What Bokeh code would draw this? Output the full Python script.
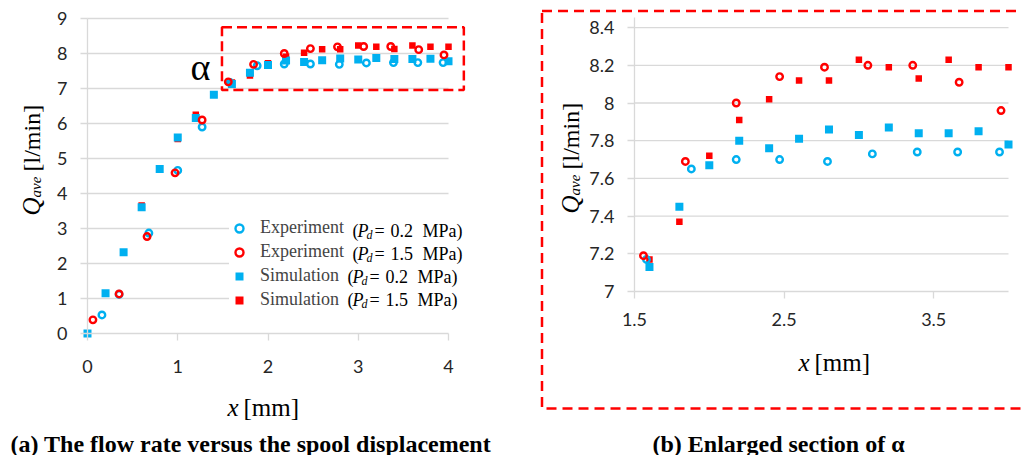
import math
from bokeh.plotting import figure
from bokeh.models import (Range1d, Label, BoxAnnotation, Legend, LegendItem, FixedTicker,
                          LinearAxis, ColumnDataSource, CDSView, BooleanFilter)
from bokeh.layouts import row
from bokeh.embed import file_html
from bokeh.resources import INLINE

# ---------------- data ----------------
sim_x = [0.0, 0.2, 0.4, 0.6, 0.8, 1.0, 1.2, 1.4, 1.6, 1.8, 2.0, 2.2, 2.4, 2.6, 2.8, 3.0, 3.2, 3.4, 3.6, 3.8, 4.0]
sim_q_02 = [0.00, 1.15, 2.32, 3.61, 4.70, 5.60, 6.16, 6.82, 7.13, 7.45, 7.67, 7.80, 7.76, 7.81, 7.86, 7.83, 7.87, 7.84, 7.84, 7.85, 7.78]
sim_q_15 = [0.00, 1.15, 2.32, 3.66, 4.70, 5.56, 6.25, 6.82, 7.17, 7.37, 7.72, 7.91, 8.02, 8.12, 8.12, 8.23, 8.19, 8.13, 8.23, 8.19, 8.19]

exp_x_02 = [0.16, 0.35, 0.68, 1.00, 1.27, 1.58, 1.88, 2.18, 2.47, 2.79, 3.09, 3.39, 3.66, 3.94]
exp_q_02 = [0.53, 1.12, 2.87, 4.66, 5.90, 7.17, 7.65, 7.70, 7.70, 7.69, 7.73, 7.74, 7.74, 7.74]
exp_x_15 = [0.06, 0.35, 0.66, 0.97, 1.27, 1.56, 1.84, 2.18, 2.47, 2.77, 3.06, 3.36, 3.67, 3.95]
exp_q_15 = [0.39, 1.13, 2.77, 4.59, 6.10, 7.19, 7.69, 8.00, 8.14, 8.19, 8.20, 8.20, 8.11, 7.96]

a_x_ticks = [0, 1, 2, 3, 4]
a_x_labels = ["0", "1", "2", "3", "4"]
a_y_ticks = [0, 1, 2, 3, 4, 5, 6, 7, 8, 9]
a_y_labels = ["0", "1", "2", "3", "4", "5", "6", "7", "8", "9"]
b_x_ticks = [1.5, 2.5, 3.5]
b_x_labels = ["1.5", "2.5", "3.5"]
b_y_ticks = [7.0, 7.2, 7.4, 7.6, 7.8, 8.0, 8.2, 8.4]
b_y_labels = ["7", "7.2", "7.4", "7.6", "7.8", "8", "8.2", "8.4"]

legend_names = ["Experiment", "Experiment", "Simulation", "Simulation"]
legend_pressures = ["0.2", "1.5", "0.2", "1.5"]
caption_a = "(a) The flow rate versus the spool displacement"
caption_b = "(b) Enlarged section of \u03b1"

BLUE = "#00b0f0"
RED = "#ff0000"
GRID = "#d9d9d9"
SERIF = "Liberation Serif"


# ---------------- helpers ----------------
def make_fig(w, h, fx, fy):
    p = figure(width=w, height=h, x_range=Range1d(fx(0), fx(w)), y_range=Range1d(fy(h), fy(0)),
               output_backend="svg", toolbar_location=None, x_axis_type=None, y_axis_type=None,
               min_border=0, min_border_left=0, min_border_right=0, min_border_top=0,
               min_border_bottom=0)
    p.outline_line_color = None
    p.background_fill_color = "white"
    p.border_fill_color = "white"
    p.grid.visible = False
    return p


def add_axes(p, xticks, xlabels, yticks, ylabels, xb, yb, xstand):
    xa = LinearAxis(fixed_location=yb[0], bounds=xb, ticker=FixedTicker(ticks=xticks),
                    major_label_overrides=dict(zip(xticks, xlabels)))
    ya = LinearAxis(fixed_location=xb[0], bounds=yb, ticker=FixedTicker(ticks=yticks),
                    major_label_overrides=dict(zip(yticks, ylabels)))
    for ax in (xa, ya):
        ax.axis_line_color = GRID
        ax.axis_line_width = 1.3
        ax.major_tick_line_color = GRID
        ax.major_tick_line_width = 1.3
        ax.major_tick_out = 7
        ax.major_tick_in = 0
        ax.minor_tick_line_color = None
        ax.major_label_text_font = "Lato"
        ax.major_label_text_font_size = "18px"
        ax.major_label_text_color = "#262626"
    ya.major_label_standoff = 13
    xa.major_label_standoff = xstand
    p.add_layout(xa, "below")
    p.add_layout(ya, "left")
    # horizontal grid lines, spanning the x axis extent
    gy = [t for t in yticks if t != yb[0]]
    p.segment(x0=[xb[0]] * len(gy), x1=[xb[1]] * len(gy), y0=gy, y1=gy,
              line_color=GRID, line_width=1.3, level="underlay")


def add_series(p, window=None):
    def view(xs, ys):
        if window is None:
            return CDSView()
        x0, x1, y0, y1 = window
        return CDSView(filter=BooleanFilter([x0 <= a <= x1 + 1e-9 and y0 <= b <= y1 for a, b in zip(xs, ys)]))
    s15 = ColumnDataSource(dict(x=sim_x, q=sim_q_15))
    s02 = ColumnDataSource(dict(x=sim_x, q=sim_q_02))
    e02 = ColumnDataSource(dict(x=exp_x_02, q=exp_q_02))
    e15 = ColumnDataSource(dict(x=exp_x_15, q=exp_q_15))
    r_s15 = p.scatter("x", "q", source=s15, view=view(sim_x, sim_q_15), marker="square", size=6.5,
                      fill_color=RED, line_color=None)
    r_s02 = p.scatter("x", "q", source=s02, view=view(sim_x, sim_q_02), marker="square", size=8,
                      fill_color=BLUE, line_color=None)
    r_e02 = p.scatter("x", "q", source=e02, view=view(exp_x_02, exp_q_02), marker="circle", size=6.5,
                      fill_color=None, line_color=BLUE, line_width=2.4)
    r_e15 = p.scatter("x", "q", source=e15, view=view(exp_x_15, exp_q_15), marker="circle", size=6.5,
                      fill_color=None, line_color=RED, line_width=2.4)
    return [r_e02, r_e15, r_s02, r_s15]


def lab(p, fx, fy, px, py, text, size, style="normal", angle=0.0, baseline="alphabetic",
        align="left", color="black"):
    p.add_layout(Label(x=fx(px), y=fy(py), text=text, text_font=SERIF,
                       text_font_size=f"{size}px", text_font_style=style, angle=angle,
                       text_baseline=baseline, text_align=align, text_color=color))


# ---------------- left chart (a) ----------------
AW, AH = 530, 455
AL, AR, AT, AB = 87, 448, 18, 333          # pixel extent of the plot area
ax_ = lambda px: (px - AL) / (AR - AL) * 4.0
ay_ = lambda py: (AB - py) / (AB - AT) * 9.0

pa = make_fig(AW, AH, ax_, ay_)
add_axes(pa, a_x_ticks, a_x_labels, a_y_ticks, a_y_labels, (0, 4), (0, 9), 19)
renderers_a = add_series(pa)

# alpha region box
pa.add_layout(BoxAnnotation(left=1.49, right=4.17, bottom=6.96, top=8.75, fill_alpha=0,
                            line_color=RED, line_alpha=1.0, line_width=2.5, line_dash="10 5"))
lab(pa, ax_, ay_, 190, 66, "\u03b1", 38)

# legend background covering grid lines
pa.add_layout(BoxAnnotation(left=ax_(231), right=ax_(488), top=ay_(212), bottom=ay_(316),
                            fill_color="white", fill_alpha=1, line_color=None))
legend = Legend(items=[LegendItem(label=n, renderers=[r]) for n, r in zip(legend_names, renderers_a)],
                location=(229, AH - 310), margin=0, padding=8, spacing=3,
                glyph_width=20, glyph_height=20, label_standoff=11,
                label_text_font=SERIF, label_text_font_size="18px", label_height=20,
                background_fill_color="white", background_fill_alpha=1.0, border_line_color=None)
pa.add_layout(legend)

name_w = {"Experiment": 84.0, "Simulation": 79.0}
for i, (n, pr) in enumerate(zip(legend_names, legend_pressures)):
    cy = 230 + 23 * i
    x0 = 261 + name_w[n] + 7
    lab(pa, ax_, ay_, x0, cy, "(", 18, baseline="middle")
    lab(pa, ax_, ay_, x0 + 5, cy, "P", 18, style="italic", baseline="middle")
    lab(pa, ax_, ay_, x0 + 14, cy + 4, "d", 12, style="italic", baseline="middle")
    lab(pa, ax_, ay_, x0 + 22, cy, "=", 18, baseline="middle")
    lab(pa, ax_, ay_, x0 + 38, cy, pr, 18, baseline="middle")
    lab(pa, ax_, ay_, x0 + 70, cy, "MPa)", 18, baseline="middle")

# axis titles
lab(pa, ax_, ay_, 227, 407, "x", 25, style="italic")
lab(pa, ax_, ay_, 243, 407, "[mm]", 25)
lab(pa, ax_, ay_, 31, 215, "Q", 25, style="italic", angle=math.pi / 2)
lab(pa, ax_, ay_, 35, 197, "ave", 15, style="italic", angle=math.pi / 2)
lab(pa, ax_, ay_, 31, 171, "[l/min]", 24, angle=math.pi / 2)
# caption
lab(pa, ax_, ay_, 10, 443, caption_a, 24, style="bold")

# ---------------- right chart (b) ----------------
BW, BH = 491, 455
BL, BR, BT, BB = 104, 478, 17, 291
PXU = 188.5                                 # pixels per l/min on the enlarged axis
b_ytop = 7.0 + (BB - BT) / PXU
bx_ = lambda px: 1.5 + (px - BL) / (BR - BL) * 2.5
by_ = lambda py: 7.0 + (BB - py) / PXU

pb = make_fig(BW, BH, bx_, by_)
add_axes(pb, b_x_ticks, b_x_labels, b_y_ticks, b_y_labels, (1.5, 4.0), (7.0, b_ytop), 14)
add_series(pb, window=(1.5, 4.0, 7.0, b_ytop))

# dashed frame around the enlarged section
pb.add_layout(BoxAnnotation(left=bx_(11.5), right=bx_(620), top=by_(10.5), bottom=by_(408),
                            fill_alpha=0, line_color=RED, line_alpha=1.0, line_width=2.5,
                            line_dash="10 6"))

lab(pb, bx_, by_, 268, 362, "x", 25, style="italic")
lab(pb, bx_, by_, 284, 362, "[mm]", 25)
lab(pb, bx_, by_, 40, 213, "Q", 25, style="italic", angle=math.pi / 2)
lab(pb, bx_, by_, 44, 195, "ave", 15, style="italic", angle=math.pi / 2)
lab(pb, bx_, by_, 40, 169, "[l/min]", 24, angle=math.pi / 2)
lab(pb, bx_, by_, 122, 443, caption_b, 24, style="bold")

layout = row(pa, pb)
open("out.html", "w").write(file_html(layout, INLINE))
